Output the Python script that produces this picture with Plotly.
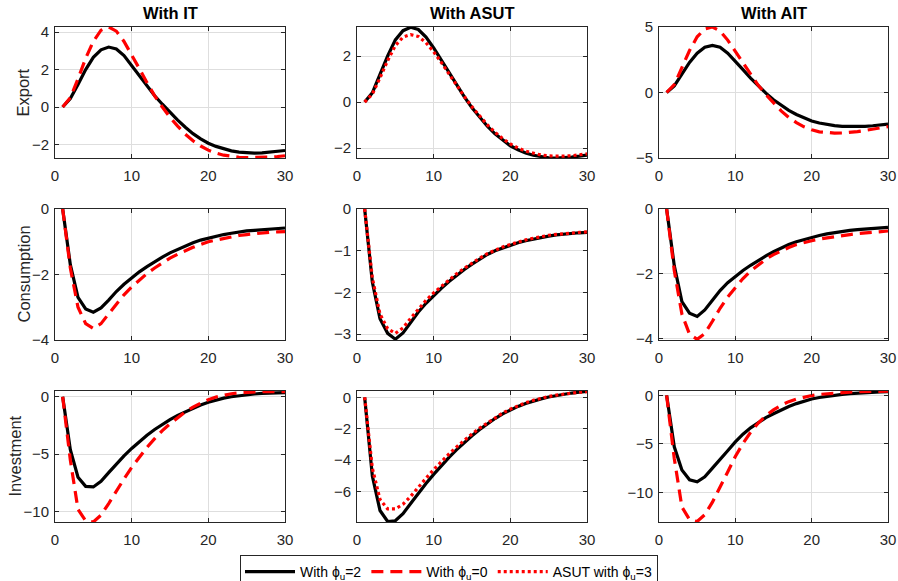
import plotly.graph_objects as go

periods = list(range(1, 31))

col_titles = ["With IT", "With ASUT", "With AIT"]
row_titles = ["Export", "Consumption", "Investment"]
legend_names = ["With ϕ<sub>u</sub>=2", "With ϕ<sub>u</sub>=0", "ASUT with ϕ<sub>u</sub>=3"]

# Export
exp_it_base = [0, 0.45, 1.2, 2.0, 2.65, 3.05, 3.2, 3.1, 2.75, 2.2, 1.65, 1.1, 0.6, 0.15, -0.3, -0.7, -1.08, -1.42, -1.7, -1.93, -2.1, -2.24, -2.34, -2.41, -2.45, -2.46, -2.45, -2.42, -2.38, -2.32]
exp_it_phi0 = [0, 0.5, 1.5, 2.6, 3.5, 4.1, 4.27, 4.05, 3.5, 2.8, 2.05, 1.3, 0.6, 0.0, -0.55, -1.02, -1.45, -1.8, -2.08, -2.3, -2.46, -2.57, -2.64, -2.68, -2.7, -2.7, -2.69, -2.67, -2.64, -2.6]
exp_asut_base = [0, 0.4, 1.2, 2.0, 2.7, 3.1, 3.25, 3.15, 2.82, 2.35, 1.82, 1.27, 0.73, 0.23, -0.25, -0.67, -1.05, -1.38, -1.66, -1.9, -2.07, -2.21, -2.31, -2.38, -2.42, -2.43, -2.42, -2.39, -2.35, -2.3]
exp_asut_alt = [0, 0.35, 1.05, 1.8, 2.45, 2.82, 2.93, 2.85, 2.58, 2.18, 1.72, 1.22, 0.72, 0.24, -0.21, -0.62, -0.99, -1.31, -1.59, -1.82, -2.0, -2.13, -2.23, -2.3, -2.34, -2.36, -2.35, -2.33, -2.29, -2.25]
exp_ait_base = [0, 0.5, 1.4, 2.3, 3.0, 3.45, 3.6, 3.45, 3.0, 2.4, 1.75, 1.1, 0.5, -0.05, -0.55, -0.98, -1.36, -1.68, -1.95, -2.17, -2.33, -2.45, -2.53, -2.58, -2.6, -2.6, -2.58, -2.54, -2.48, -2.42]
exp_ait_phi0 = [0, 0.6, 1.9, 3.2, 4.25, 4.85, 5.0, 4.7, 4.0, 3.15, 2.25, 1.35, 0.55, -0.15, -0.8, -1.4, -1.9, -2.3, -2.62, -2.85, -3.0, -3.08, -3.1, -3.09, -3.05, -2.98, -2.9, -2.8, -2.7, -2.6]

# Consumption
cons_it_base = [0, -1.7, -2.7, -3.05, -3.15, -3.02, -2.78, -2.52, -2.3, -2.1, -1.92, -1.76, -1.61, -1.47, -1.34, -1.23, -1.12, -1.03, -0.95, -0.89, -0.83, -0.78, -0.74, -0.7, -0.67, -0.65, -0.63, -0.61, -0.6, -0.58]
cons_it_phi0 = [0, -1.8, -3.0, -3.5, -3.65, -3.5, -3.2, -2.9, -2.62, -2.38, -2.16, -1.97, -1.8, -1.64, -1.5, -1.38, -1.27, -1.17, -1.08, -1.0, -0.95, -0.9, -0.85, -0.81, -0.78, -0.75, -0.73, -0.71, -0.7, -0.69]
cons_asut_base = [0, -1.75, -2.63, -2.98, -3.12, -2.97, -2.72, -2.47, -2.26, -2.07, -1.9, -1.74, -1.59, -1.45, -1.32, -1.2, -1.09, -1.0, -0.93, -0.87, -0.81, -0.76, -0.72, -0.68, -0.65, -0.62, -0.6, -0.58, -0.57, -0.56]
cons_asut_alt = [0, -1.65, -2.52, -2.87, -2.98, -2.85, -2.62, -2.39, -2.19, -2.01, -1.85, -1.7, -1.55, -1.42, -1.29, -1.18, -1.07, -0.98, -0.91, -0.85, -0.79, -0.74, -0.7, -0.66, -0.63, -0.61, -0.59, -0.57, -0.56, -0.55]
cons_ait_base = [0, -1.75, -2.86, -3.22, -3.32, -3.12, -2.82, -2.52, -2.28, -2.08, -1.9, -1.74, -1.59, -1.45, -1.32, -1.2, -1.1, -1.01, -0.94, -0.88, -0.82, -0.77, -0.73, -0.69, -0.66, -0.64, -0.62, -0.6, -0.58, -0.57]
cons_ait_phi0 = [0, -1.9, -3.25, -3.87, -4.03, -3.85, -3.47, -3.07, -2.72, -2.42, -2.15, -1.92, -1.72, -1.55, -1.41, -1.29, -1.19, -1.1, -1.03, -0.98, -0.93, -0.89, -0.85, -0.82, -0.79, -0.76, -0.74, -0.72, -0.7, -0.68]

# Investment
inv_it_base = [0, -4.6, -7.0, -7.8, -7.85, -7.35, -6.6, -5.85, -5.15, -4.5, -3.9, -3.35, -2.85, -2.4, -2.0, -1.62, -1.3, -1.0, -0.72, -0.48, -0.28, -0.12, 0.0, 0.1, 0.18, 0.24, 0.29, 0.32, 0.34, 0.35]
inv_it_phi0 = [0, -5.5, -9.8, -10.8, -10.9, -10.3, -9.3, -8.2, -7.15, -6.15, -5.25, -4.4, -3.65, -2.95, -2.35, -1.8, -1.32, -0.9, -0.55, -0.25, -0.02, 0.14, 0.26, 0.34, 0.39, 0.42, 0.44, 0.45, 0.45, 0.45]
inv_asut_base = [0, -5.0, -7.2, -7.9, -7.85, -7.4, -6.75, -6.1, -5.48, -4.9, -4.35, -3.82, -3.33, -2.87, -2.45, -2.05, -1.68, -1.35, -1.05, -0.8, -0.58, -0.4, -0.24, -0.1, 0.02, 0.12, 0.2, 0.27, 0.32, 0.37]
inv_asut_alt = [0, -4.5, -6.5, -7.1, -7.1, -6.8, -6.3, -5.7, -5.15, -4.6, -4.08, -3.6, -3.15, -2.73, -2.33, -1.96, -1.62, -1.3, -1.0, -0.75, -0.53, -0.35, -0.19, -0.06, 0.05, 0.14, 0.21, 0.27, 0.32, 0.36]
inv_ait_base = [0, -5.3, -7.7, -8.7, -8.9, -8.4, -7.5, -6.65, -5.7, -4.8, -4.0, -3.35, -2.78, -2.3, -1.9, -1.5, -1.15, -0.85, -0.58, -0.38, -0.22, -0.09, 0.02, 0.1, 0.17, 0.23, 0.28, 0.32, 0.35, 0.38]
inv_ait_phi0 = [0, -6.5, -11.5, -12.8, -13.0, -12.3, -11.0, -9.5, -7.9, -6.3, -4.95, -3.8, -2.85, -2.1, -1.5, -1.02, -0.65, -0.38, -0.17, -0.02, 0.1, 0.18, 0.25, 0.3, 0.34, 0.37, 0.39, 0.41, 0.42, 0.43]

# panel ranges and ticks
y_ranges = [
    [[-2.72, 4.27], [-2.43, 3.26], [-5, 5]],
    [[-4, 0], [-3.14, 0], [-4.05, 0]],
    [[-10.9, 0.5], [-7.93, 0.4], [-13.05, 0.45]],
]
y_ticks = [
    [[-2, 0, 2, 4], [-2, 0, 2], [-5, 0, 5]],
    [[-4, -2, 0], [-3, -2, -1, 0], [-4, -2, 0]],
    [[-10, -5, 0], [-6, -4, -2, 0], [-10, -5, 0]],
]
x_ticks = [0, 10, 20, 30]

panels = [
    [(exp_it_base, exp_it_phi0, "phi0"), (exp_asut_base, exp_asut_alt, "asut"), (exp_ait_base, exp_ait_phi0, "phi0")],
    [(cons_it_base, cons_it_phi0, "phi0"), (cons_asut_base, cons_asut_alt, "asut"), (cons_ait_base, cons_ait_phi0, "phi0")],
    [(inv_it_base, inv_it_phi0, "phi0"), (inv_asut_base, inv_asut_alt, "asut"), (inv_ait_base, inv_ait_phi0, "phi0")],
]

W, H = 898, 581
col_px = [(55, 285), (357, 587), (659, 888)]
row_px = [(27, 158), (209, 340), (391, 522)]

AX = "#262626"
GRID = "#dedede"
FONT = "Liberation Sans, Arial, sans-serif"

fig = go.Figure()
layout = dict(
    width=W, height=H,
    margin=dict(l=0, r=0, t=0, b=0, autoexpand=False),
    paper_bgcolor="white", plot_bgcolor="white",
    font=dict(family=FONT, size=15, color=AX),
    showlegend=True,
)

shown = {"base": False, "phi0": False, "asut": False}
for r in range(3):
    for c in range(3):
        idx = r * 3 + c + 1
        xa = "x" if idx == 1 else f"x{idx}"
        ya = "y" if idx == 1 else f"y{idx}"
        base, alt, kind = panels[r][c]
        fig.add_trace(go.Scatter(
            x=periods, y=base, mode="lines", xaxis=xa, yaxis=ya,
            line=dict(color="black", width=3.2),
            name=legend_names[0], legendgroup="base", showlegend=not shown["base"]))
        shown["base"] = True
        if kind == "phi0":
            fig.add_trace(go.Scatter(
                x=periods, y=alt, mode="lines", xaxis=xa, yaxis=ya,
                line=dict(color="#ff0000", width=3.2, dash="12px,7px"),
                name=legend_names[1], legendgroup="phi0", showlegend=not shown["phi0"]))
            shown["phi0"] = True
        else:
            fig.add_trace(go.Scatter(
                x=periods, y=alt, mode="lines", xaxis=xa, yaxis=ya,
                line=dict(color="#ff0000", width=3.2, dash="3px,3px"),
                name=legend_names[2], legendgroup="asut", showlegend=not shown["asut"]))
            shown["asut"] = True
        x0, x1 = col_px[c]
        y0, y1 = row_px[r]
        common = dict(showline=True, mirror="ticks", linecolor=AX, linewidth=1,
                      ticks="inside", ticklen=4, tickcolor=AX, showgrid=True,
                      gridcolor=GRID, gridwidth=1, zeroline=False,
                      tickfont=dict(size=15, color=AX, family=FONT))
        layout["xaxis" if idx == 1 else f"xaxis{idx}"] = dict(
            domain=[x0 / W, x1 / W], range=[0, 30], tickvals=x_ticks,
            anchor=ya, ticklabelstandoff=4, **common)
        layout["yaxis" if idx == 1 else f"yaxis{idx}"] = dict(
            domain=[1 - y1 / H, 1 - y0 / H], range=y_ranges[r][c],
            tickvals=y_ticks[r][c], anchor=xa, ticklabelstandoff=2, **common)

annotations = []
for c in range(3):
    x0, x1 = col_px[c]
    annotations.append(dict(
        text=f"<b>{col_titles[c]}</b>", x=(x0 + x1) / 2 / W, y=1 - 13 / H,
        xref="paper", yref="paper", xanchor="center", yanchor="middle",
        showarrow=False, font=dict(size=16.5, color="black", family=FONT)))
label_x = [23, 23, 14]
for r in range(3):
    y0, y1 = row_px[r]
    annotations.append(dict(
        text=row_titles[r], x=label_x[r] / W, y=1 - (y0 + y1) / 2 / H,
        xref="paper", yref="paper", xanchor="center", yanchor="middle",
        textangle=-90, showarrow=False,
        font=dict(size=16.5, color=AX, family=FONT)))
layout["annotations"] = annotations

layout["legend"] = dict(
    orientation="h", x=0.5, xanchor="center", y=1 - 555 / H, yanchor="top",
    yref="container", xref="container",
    bordercolor=AX, borderwidth=1, bgcolor="white",
    font=dict(size=14, color="black", family=FONT),
    itemwidth=50, tracegroupgap=0,
)

fig.update_layout(**layout)
fig.write_html("out.html")
